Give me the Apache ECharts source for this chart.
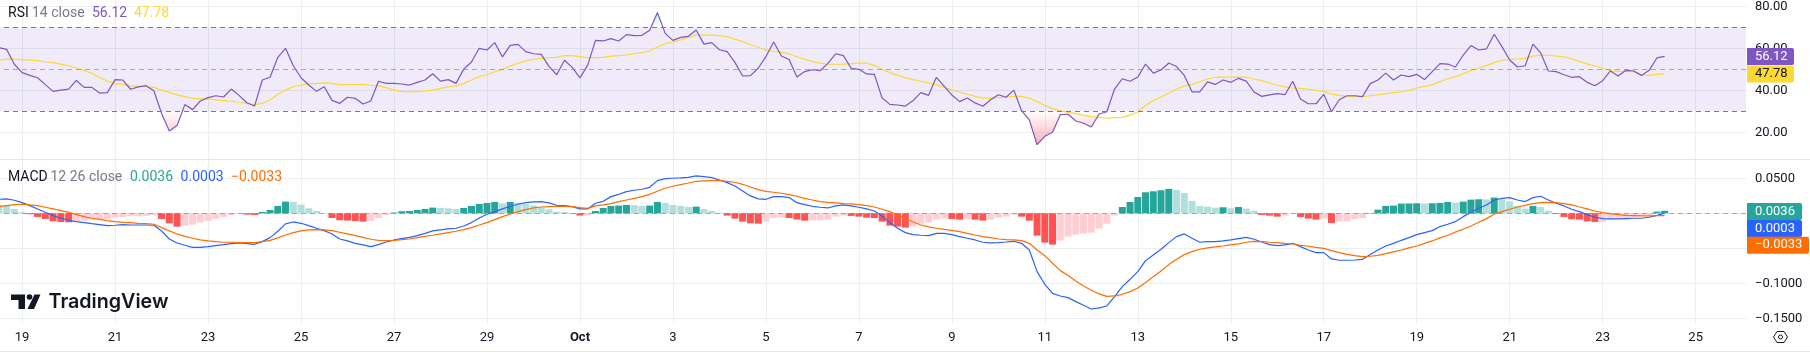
<!DOCTYPE html>
<html>
<head>
<meta charset="utf-8">
<style>
  html, body { margin: 0; padding: 0; background: #fff; }
  #main { width: 1810px; height: 352px; }
</style>
<script src="https://cdn.jsdelivr.net/npm/echarts@6/dist/echarts.min.js"></script>
</head>
<body>
<div id="main"></div>
<script>
// 4h bars, first visible bar sits three bars before Sep 19 00:00
const barsBeforeFirstTick = 3
const barsPerTick = 12
const tickLabels = ['19','21','23','25','27','29','Oct','3','5','7','9','11','13','15','17','19','21','23','25']
const totalBars = 226

const rsi = [60.3,59.5,52.4,48.4,47.1,46.0,42.7,39.5,40.1,40.6,44.7,41.4,41.4,38.7,38.9,45.1,44.9,40.5,41.6,42.2,39.8,29.0,20.6,23.2,33.2,30.8,34.9,36.5,37.4,36.8,40.6,37.6,34.1,32.5,44.9,46.2,55.7,60.0,51.7,46.0,42.5,39.5,41.7,35.2,33.8,36.7,36.2,33.5,34.9,44.3,43.3,43.3,43.0,42.5,43.8,44.9,47.9,44.4,45.1,43.3,50.1,53.5,60.0,59.2,62.7,55.9,61.4,61.9,58.4,57.4,57.1,51.4,47.4,54.3,50.9,45.9,52.0,63.8,
  63.5,64.6,63.5,66.5,66.0,66.2,68.6,77.0,67.1,63.8,65.2,65.7,68.7,62.0,62.7,59.3,58.4,53.3,46.8,47.0,50.5,56.0,63.0,56.3,54.7,46.3,48.9,49.8,49.3,52.8,57.4,56.5,50.5,50.0,47.8,47.6,36.3,33.3,33.0,32.5,35.1,38.9,37.6,46.2,42.0,37.8,34.6,36.3,34.0,32.4,35.5,37.9,36.7,40.1,30.3,25.9,14.1,18.1,20.0,28.4,28.6,25.4,24.3,22.5,28.7,29.8,40.6,45.5,44.3,46.3,52.5,48.2,49.7,53.0,51.3,47.1,39.3,39.3,
  44.0,42.8,44.9,43.8,45.7,44.4,39.2,37.1,37.8,38.4,37.9,44.3,35.9,33.6,33.6,38.1,29.8,35.5,37.4,37.4,37.0,43.2,44.9,48.2,44.9,47.3,46.5,47.6,45.1,48.9,52.7,52.5,51.1,56.8,61.3,59.2,59.7,66.7,60.8,54.4,51.1,51.7,62.0,57.8,49.2,48.9,47.4,46.2,46.5,43.8,42.2,44.6,49.2,46.8,49.5,49.2,47.1,49.5,55.4,56.12]

const rsiMa = [54.4,54.8,54.9,54.6,54.4,54.1,53.6,53.2,52.5,51.7,50.6,49.4,48.1,46.0,44.4,43.3,42.7,42.1,41.9,41.7,41.4,40.1,39.0,37.8,37.0,36.2,35.9,35.9,35.4,35.1,34.8,34.3,33.6,33.2,33.8,35.4,38.1,40.1,41.7,42.5,43.0,43.3,43.5,43.3,42.7,42.7,42.7,42.8,42.4,42.1,41.3,40.1,39.5,39.2,39.4,39.7,40.1,40.9,41.6,42.1,43.3,44.9,46.5,47.4,48.7,50.0,51.6,52.9,54.0,54.8,55.2,55.6,55.7,56.5,56.5,56.0,55.6,55.6,55.7,
  56.3,56.5,56.8,57.4,57.9,58.7,60.6,62.2,63.0,64.0,65.2,66.3,66.3,66.3,66.0,65.5,64.4,63.2,61.7,60.5,59.2,58.6,58.1,57.4,56.0,54.8,53.8,52.9,52.4,52.4,52.5,52.7,52.9,52.9,51.9,50.0,48.4,47.1,46.0,45.1,44.3,43.5,42.7,41.4,40.1,39.2,38.1,37.1,36.3,36.3,36.5,36.8,37.1,37.1,36.3,34.6,32.8,31.3,30.3,29.5,28.9,28.1,27.5,27.1,26.7,27.0,27.1,28.3,29.7,32.8,35.1,36.8,38.6,40.5,42.1,42.8,44.1,
  45.4,46.2,46.3,46.3,46.3,46.2,45.4,44.6,43.5,42.4,41.6,41.1,40.9,40.6,40.0,39.5,38.2,37.6,37.1,37.0,37.0,37.4,37.8,38.4,38.9,39.2,40.0,41.1,41.9,42.7,44.1,45.5,46.5,47.8,49.4,50.6,51.9,53.2,54.3,54.8,54.9,55.2,56.3,56.8,56.7,56.3,56.0,54.9,53.8,52.5,51.7,50.5,49.4,49.0,49.0,48.9,47.4,47.1,47.6,47.78]

const macdLine = [.0200,.0205,.0186,.0152,.0110,.0062,.0014,-.0033,-.0071,-.0100,-.0119,-.0133,-.0148,-.0162,-.0176,-.0171,-.0162,-.0167,-.0167,-.0167,-.0171,-.0252,-.0367,-.0424,-.0457,-.0486,-.0486,-.0476,-.0462,-.0448,-.0433,-.0424,-.0433,-.0443,-.0405,-.0348,-.0257,-.0152,-.0124,-.0143,-.0176,-.0214,-.0248,-.0295,-.0367,-.0395,-.0429,-.0452,-.0476,-.0448,-.0410,-.0381,-.0362,-.0343,-.0319,-.0286,-.0252,-.0238,-.0224,-.0214,-.0181,-.0133,-.0067,-.0014,.0024,.0062,.0100,.0129,.0152,.0162,.0167,.0148,.0114,.0110,.0095,.0062,.0062,.0143,.0171,
  .0238,.0271,.0310,.0329,.0343,.0371,.0467,.0495,.0500,.0505,.0514,.0533,.0524,.0510,.0476,.0438,.0390,.0319,.0248,.0205,.0200,.0238,.0238,.0224,.0152,.0124,.0100,.0086,.0076,.0105,.0119,.0105,.0086,.0062,.0033,-.0038,-.0133,-.0214,-.0276,-.0305,-.0314,-.0319,-.0286,-.0286,-.0305,-.0333,-.0357,-.0381,-.0414,-.0424,-.0419,-.0410,-.0400,-.0429,-.0524,-.0833,-.1014,-.1143,-.1181,-.1205,-.1262,-.1314,-.1367,-.1352,-.1324,-.1190,-.1048,-.0943,-.0833,-.0676,-.0595,-.0514,-.0419,-.0333,-.0295,-.0357,-.0414,
  -.0405,-.0405,-.0395,-.0381,-.0362,-.0343,-.0371,-.0410,-.0448,-.0462,-.0452,-.0429,-.0476,-.0524,-.0562,-.0562,-.0652,-.0671,-.0671,-.0667,-.0657,-.0590,-.0524,-.0467,-.0429,-.0386,-.0348,-.0305,-.0276,-.0248,-.0190,-.0157,-.0119,-.0048,.0014,.0071,.0119,.0190,.0214,.0224,.0190,.0167,.0224,.0243,.0190,.0143,.0105,.0057,.0024,-.0019,-.0057,-.0076,-.0081,-.0081,-.0076,-.0071,-.0071,-.0057,-.0029,.0003]

const signalLine = [.0095,.0110,.0124,.0129,.0119,.0110,.0086,.0062,.0038,.0014,-.0019,-.0048,-.0071,-.0086,-.0105,-.0119,-.0129,-.0133,-.0143,-.0148,-.0157,-.0205,-.0252,-.0295,-.0329,-.0357,-.0381,-.0395,-.0405,-.0414,-.0414,-.0419,-.0419,-.0419,-.0405,-.0386,-.0352,-.0310,-.0276,-.0252,-.0238,-.0233,-.0238,-.0248,-.0271,-.0295,-.0319,-.0343,-.0371,-.0386,-.0390,-.0386,-.0376,-.0367,-.0348,-.0329,-.0314,-.0295,-.0276,-.0257,-.0233,-.0205,-.0167,-.0133,-.0090,-.0048,-.0010,.0024,.0052,.0076,.0090,.0095,.0100,.0100,.0095,.0081,.0071,.0105,.0119,
  .0138,.0167,.0190,.0214,.0238,.0271,.0314,.0357,.0386,.0410,.0433,.0457,.0462,.0467,.0467,.0457,.0443,.0414,.0376,.0338,.0314,.0300,.0286,.0267,.0243,.0214,.0190,.0167,.0157,.0148,.0138,.0133,.0124,.0110,.0090,.0057,.0024,-.0024,-.0071,-.0124,-.0167,-.0195,-.0214,-.0229,-.0243,-.0262,-.0286,-.0310,-.0333,-.0348,-.0367,-.0376,-.0381,-.0390,-.0429,-.0524,-.0605,-.0714,-.0819,-.0890,-.0967,-.1038,-.1100,-.1152,-.1186,-.1181,-.1157,-.1119,-.1067,-.0990,-.0905,-.0824,-.0733,-.0657,-.0590,-.0548,-.0514,
  -.0495,-.0481,-.0467,-.0452,-.0438,-.0414,-.0400,-.0405,-.0414,-.0419,-.0429,-.0438,-.0457,-.0471,-.0486,-.0500,-.0533,-.0562,-.0586,-.0605,-.0619,-.0614,-.0600,-.0576,-.0552,-.0524,-.0495,-.0467,-.0429,-.0395,-.0352,-.0314,-.0267,-.0229,-.0181,-.0129,-.0076,-.0014,.0024,.0057,.0090,.0114,.0138,.0152,.0157,.0152,.0138,.0119,.0090,.0062,.0033,.0010,-.0005,-.0019,-.0029,-.0033,-.0038,-.0038,-.0033,-.0033]

const histogram = [.0114,.0110,.0062,.0014,-.0014,-.0052,-.0081,-.0114,-.0124,-.0129,-.0110,-.0105,-.0090,-.0086,-.0081,-.0062,-.0057,-.0043,-.0040,-.0038,-.0024,-.0081,-.0143,-.0190,-.0176,-.0162,-.0133,-.0110,-.0076,-.0052,-.0029,-.0010,-.0019,-.0024,.0019,.0048,.0105,.0167,.0162,.0124,.0071,.0033,.0005,-.0067,-.0100,-.0105,-.0110,-.0119,-.0110,-.0067,-.0024,.0010,.0029,.0033,.0048,.0062,.0081,.0076,.0071,.0062,.0076,.0105,.0133,.0148,.0162,.0143,.0162,.0152,.0133,.0114,.0081,.0057,.0024,.0019,-.0005,-.0033,-.0029,.0033,
  .0076,.0105,.0110,.0119,.0117,.0105,.0110,.0162,.0148,.0119,.0105,.0090,.0095,.0062,.0033,.0005,-.0033,-.0076,-.0119,-.0143,-.0148,-.0119,-.0067,-.0062,-.0067,-.0090,-.0105,-.0102,-.0100,-.0090,-.0048,-.0033,-.0038,-.0048,-.0062,-.0067,-.0119,-.0176,-.0190,-.0205,-.0190,-.0148,-.0133,-.0090,-.0076,-.0081,-.0090,-.0086,-.0090,-.0105,-.0090,-.0062,-.0048,-.0019,-.0048,-.0105,-.0319,-.0419,-.0448,-.0390,-.0333,-.0305,-.0290,-.0276,-.0219,-.0148,-.0033,.0090,.0162,.0233,.0300,.0314,.0329,.0348,.0333,.0290,.0176,.0105,
  .0095,.0081,.0086,.0071,.0090,.0067,.0038,-.0024,-.0033,-.0048,-.0033,-.0005,-.0052,-.0076,-.0090,-.0076,-.0138,-.0119,-.0114,-.0081,-.0067,.0005,.0052,.0105,.0110,.0138,.0140,.0143,.0140,.0143,.0148,.0162,.0152,.0167,.0195,.0200,.0198,.0224,.0200,.0171,.0105,.0067,.0105,.0090,.0038,-.0010,-.0052,-.0086,-.0090,-.0114,-.0124,-.0119,-.0086,-.0076,-.0067,-.0052,-.0038,-.0024,.0024,.0036]

const rsiTicks = [80, 60, 40, 20]
const macdTicks = [0.05, 0, -0.05, -0.1, -0.15]

const PURPLE = '#7e57c2', YELLOW = '#fdd835', TEAL = '#26a69a', BLUE = '#2962ff', ORANGE = '#ff6d00'
const INK = '#131722', MUTED = '#787b86', GRID = '#eceef2'
const FONT = 'Roboto'

const categories = []
for (let i = 0; i < totalBars; i++) {
  const k = i - barsBeforeFirstTick
  categories.push(k >= 0 && k % barsPerTick === 0 ? (tickLabels[k / barsPerTick] || '') : '')
}
const isTick = i => (i - barsBeforeFirstTick) % barsPerTick === 0 && i >= barsBeforeFirstTick

// tradingview macd colouring: strong when moving away from zero
const histColor = (v, i) => {
  const prev = i ? histogram[i - 1] : v
  if (v >= 0) return v > prev ? TEAL : '#b2dfdb'
  return v > prev ? '#ffcdd2' : '#ff5252'
}

const minus = s => s.replace('-', '\u2212')

const label = (x, y, text, fill, extra) => ({
  type: 'text', x: x, y: y, z: 50, silent: true,
  style: Object.assign({ text: text, fill: fill, font: '14px ' + FONT, textVerticalAlign: 'middle' }, extra)
})

const xAxisBase = {
  type: 'category',
  data: categories,
  boundaryGap: true,
  axisLine: { show: false },
  axisTick: { show: false, interval: isTick, alignWithLabel: true },
  splitLine: { show: true, interval: isTick, alignWithLabel: true, lineStyle: { color: GRID, width: 1 } }
}

const yAxisBase = {
  type: 'value',
  position: 'right',
  scale: true,
  axisLine: { show: false },
  axisTick: { show: false },
  splitLine: { show: true, lineStyle: { color: GRID, width: 1 } }
}

const hidden = { lineStyle: { opacity: 0, width: 0 }, showSymbol: false, symbol: 'none', silent: true }

const option = {
  animation: false,
  backgroundColor: '#ffffff',
  textStyle: { fontFamily: FONT },
  grid: [
    { left: -5, width: 1751, top: 0, height: 159, outerBoundsMode: 'none' },
    { left: -5, width: 1751, top: 160, height: 163, outerBoundsMode: 'none' }
  ],
  xAxis: [
    Object.assign({}, xAxisBase, { gridIndex: 0, axisLabel: { show: false, interval: isTick } }),
    Object.assign({}, xAxisBase, {
      gridIndex: 1,
      axisLabel: {
        interval: isTick, margin: 8, color: INK, fontSize: 13, fontFamily: FONT,
        formatter: v => v === 'Oct' ? '{b|Oct}' : v,
        rich: { b: { fontWeight: 'bold', fontSize: 13, color: INK, fontFamily: FONT } }
      }
    })
  ],
  yAxis: [
    Object.assign({}, yAxisBase, {
      gridIndex: 0, min: 7.29, max: 83,
      axisTick: { show: false, customValues: rsiTicks },
      axisLabel: { customValues: rsiTicks, align: 'left', margin: 9, color: INK, fontSize: 13, fontFamily: FONT, formatter: v => v.toFixed(2) }
    }),
    Object.assign({}, yAxisBase, {
      gridIndex: 1, min: -0.1567, max: 0.0761,
      axisTick: { show: false, customValues: macdTicks },
      axisLabel: { customValues: macdTicks, align: 'left', margin: 9, color: INK, fontSize: 13, fontFamily: FONT, formatter: v => minus(v.toFixed(4)) }
    })
  ],
  series: [
    // oversold fill between the rsi and 30
    Object.assign({ type: 'line', stack: 'low', data: rsi.map(v => Math.min(v, 30)) }, hidden),
    Object.assign({
      type: 'line', stack: 'low', data: rsi.map(v => 30 - Math.min(v, 30)),
      areaStyle: {
        origin: 'auto',
        color: new echarts.graphic.LinearGradient(0, 0, 0, 1, [
          { offset: 0, color: 'rgba(242,54,69,0)' },
          { offset: 1, color: 'rgba(242,54,69,0.55)' }
        ])
      }
    }, hidden),
    // overbought fill above 70
    Object.assign({ type: 'line', stack: 'high', data: rsi.map(() => 70) }, hidden),
    Object.assign({
      type: 'line', stack: 'high', data: rsi.map(v => Math.max(v, 70) - 70),
      areaStyle: {
        color: new echarts.graphic.LinearGradient(0, 0, 0, 1, [
          { offset: 0, color: 'rgba(8,153,129,0.35)' },
          { offset: 1, color: 'rgba(8,153,129,0)' }
        ])
      }
    }, hidden),
    {
      type: 'line', name: 'RSI', data: rsi, symbol: 'none', z: 4,
      lineStyle: { color: PURPLE, width: 1.2 },
      markArea: {
        silent: true, z: 1,
        itemStyle: { color: 'rgba(126,87,194,0.12)' },
        data: [[{ yAxis: 70 }, { yAxis: 30 }]]
      },
      markLine: {
        silent: true, symbol: 'none', label: { show: false },
        lineStyle: { color: MUTED, type: [5, 4], width: 1 },
        data: [
          { yAxis: 70 },
          { yAxis: 50, lineStyle: { color: 'rgba(120,123,134,0.6)', type: [5, 4], width: 1 } },
          { yAxis: 30 }
        ]
      }
    },
    {
      type: 'line', name: 'RSI MA', data: rsiMa, symbol: 'none', z: 3,
      lineStyle: { color: YELLOW, width: 1.2 }
    },
    {
      type: 'bar', name: 'Histogram', xAxisIndex: 1, yAxisIndex: 1, barWidth: 7, z: 2,
      data: histogram.map((v, i) => ({ value: v, itemStyle: { color: histColor(v, i) } })),
      markLine: {
        silent: true, symbol: 'none', label: { show: false },
        lineStyle: { color: 'rgba(120,123,134,0.6)', type: [5, 4], width: 1 },
        data: [{ yAxis: 0 }]
      }
    },
    {
      type: 'line', name: 'MACD', xAxisIndex: 1, yAxisIndex: 1, data: macdLine, symbol: 'none', z: 4,
      lineStyle: { color: BLUE, width: 1.2 }
    },
    {
      type: 'line', name: 'Signal', xAxisIndex: 1, yAxisIndex: 1, data: signalLine, symbol: 'none', z: 4,
      lineStyle: { color: ORANGE, width: 1.2 }
    }
  ]
}

const chart = echarts.init(document.getElementById('main'), null, { renderer: 'canvas' })
chart.setOption(option)

// last value tags on the price scale
const last = a => a[a.length - 1]
const yOf = (axis, v) => chart.convertToPixel({ yAxisIndex: axis }, v)
const tag = (centerY, width, fill, textFill, text) => ({
  type: 'group', z: 60, silent: true,
  children: [
    { type: 'rect', z: 60, shape: { x: 1747, y: centerY - 8.5, width: width, height: 17, r: [0, 2, 2, 0] }, style: { fill: fill } },
    { type: 'text', z: 61, x: 1755, y: centerY, style: { text: text, fill: textFill, font: '13px ' + FONT, textVerticalAlign: 'middle' } }
  ]
})
const rsiLastY = yOf(0, last(rsi)), maLastY = yOf(0, last(rsiMa))
const histLastY = yOf(1, last(histogram))

chart.setOption({
  graphic: [
    // separators
    { type: 'rect', z: 40, silent: true, shape: { x: 0, y: 159, width: 1810, height: 1 }, style: { fill: '#e4e6eb' } },
    { type: 'rect', z: 40, silent: true, shape: { x: 0, y: 351, width: 1810, height: 1 }, style: { fill: '#e4e6eb' } },
    // legends
    label(8, 13, 'RSI', INK),
    label(32, 13, '14 close', MUTED),
    label(92, 13, last(rsi).toFixed(2), PURPLE),
    label(134, 13, last(rsiMa).toFixed(2), YELLOW),
    label(8, 177, 'MACD', INK),
    label(50.5, 177, '12 26 close', MUTED),
    label(130, 177, last(histogram).toFixed(4), TEAL),
    label(180.6, 177, last(macdLine).toFixed(4), BLUE),
    label(231, 177, minus(last(signalLine).toFixed(4)), ORANGE),
    // tags
    tag(rsiLastY, 47, PURPLE, '#ffffff', last(rsi).toFixed(2)),
    tag(maLastY, 47, YELLOW, INK, last(rsiMa).toFixed(2)),
    tag(histLastY + 0.7, 55, TEAL, '#ffffff', last(histogram).toFixed(4)),
    tag(histLastY + 17.7, 55, BLUE, '#ffffff', last(macdLine).toFixed(4)),
    tag(histLastY + 34.4, 62, ORANGE, '#ffffff', minus(last(signalLine).toFixed(4))),
    // logo
    { type: 'polygon', z: 50, silent: true, shape: { points: [[11, 294.5], [25, 294.5], [25, 309], [18.5, 309], [18.5, 300], [11, 300]] }, style: { fill: INK } },
    { type: 'circle', z: 50, silent: true, shape: { cx: 29.5, cy: 297, r: 2.8 }, style: { fill: INK } },
    { type: 'polygon', z: 50, silent: true, shape: { points: [[34.5, 294.5], [40.5, 294.5], [34, 309], [27.5, 309]] }, style: { fill: INK } },
    { type: 'text', z: 50, silent: true, x: 48.5, y: 302, style: { text: 'TradingView', fill: INK, font: '600 19.7px Inter', textVerticalAlign: 'middle' } },
    // scale settings icon
    { type: 'polygon', z: 50, silent: true, shape: { points: [[1773.5, 337], [1777, 331.5], [1784, 331.5], [1787.5, 337], [1784, 342.5], [1777, 342.5]] }, style: { fill: 'none', stroke: INK, lineWidth: 1 } },
    { type: 'circle', z: 50, silent: true, shape: { cx: 1780.5, cy: 337, r: 2 }, style: { fill: 'none', stroke: INK, lineWidth: 1 } }
  ]
})
</script>
</body>
</html>
